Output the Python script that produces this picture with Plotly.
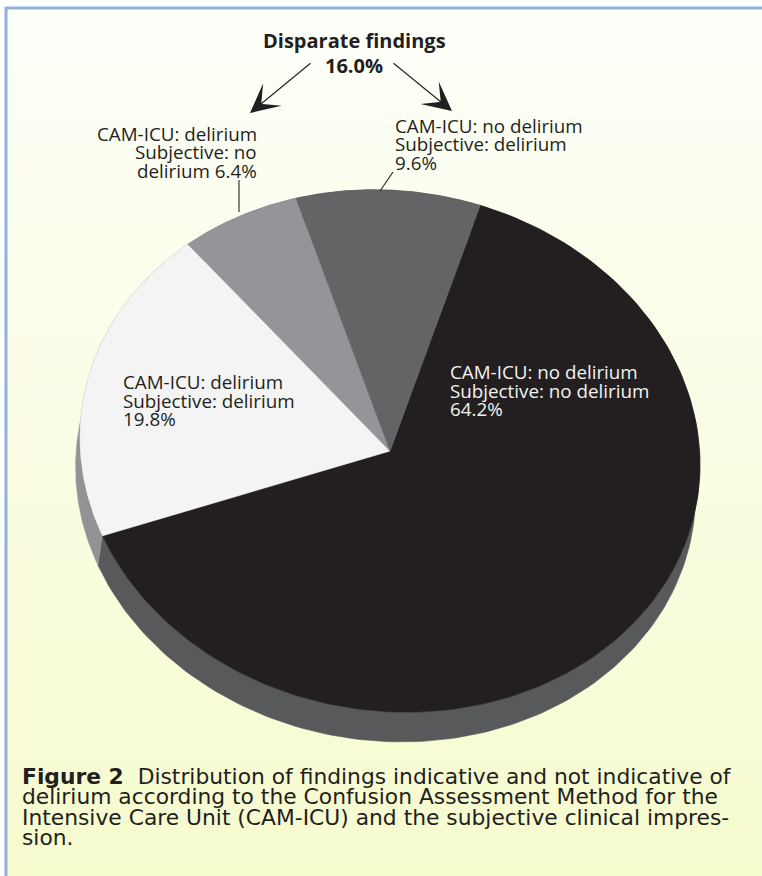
import numpy as np
import plotly.graph_objects as go

# ---------------- data ----------------
slice_names = [
    "CAM-ICU: no delirium / Subjective: no delirium",
    "CAM-ICU: delirium / Subjective: delirium",
    "CAM-ICU: delirium / Subjective: no delirium",
    "CAM-ICU: no delirium / Subjective: delirium",
]
slice_values = [64.2, 19.8, 6.4, 9.6]
top_colors = ["#231f20", "#f4f4f4", "#939598", "#646466"]
side_colors = ["#58595b", "#929397", "#7b7c7f", "#4e4e50"]
disparate_total = 16.0

caption_lines = [
    "<b>Figure 2</b>\u00a0 Distribution of findings indicative and not indicative of",
    "delirium according to the Confusion Assessment Method for the",
    "Intensive Care Unit (CAM-ICU) and the subjective clinical impres-",
    "sion.",
]

# ---------------- layout geometry ----------------
W, H = 762, 876
CX, CY = 390, 451          # centre of the pie's top face
RA, RB = 311, 260          # semi-axes of the projected disc
TILT = np.radians(8.5)     # rotation of the projected disc
DEPTH = 30                 # thickness of the pie
START = -80.2              # start angle (deg, clockwise on screen)
FONT = "Open Sans"
CAP_FONT = "DejaVu Sans"


def ell(t):
    x = CX + RA * np.cos(t) * np.cos(TILT) - RB * np.sin(t) * np.sin(TILT)
    y = CY + RA * np.cos(t) * np.sin(TILT) + RB * np.sin(t) * np.cos(TILT)
    return x, y


ex, ey = -DEPTH * np.sin(TILT), DEPTH * np.cos(TILT)

fig = go.Figure()

total = sum(slice_values)
bounds = []
acc = START
for v in slice_values:
    a0 = acc
    a1 = acc + v / total * 360.0
    bounds.append((a0, a1))
    acc = a1

# sides first
for (a0, a1), col in zip(bounds, side_colors):
    t = np.radians(np.linspace(a0, a1, 200))
    x, y = ell(t)
    xs = np.concatenate([x, x[::-1] + ex])
    ys = np.concatenate([y, y[::-1] + ey])
    fig.add_trace(go.Scatter(x=xs, y=ys, mode="lines", fill="toself",
                             fillcolor=col, line=dict(color=col, width=0.6),
                             hoverinfo="skip", showlegend=False))

# top faces
for (a0, a1), col, name in zip(bounds, top_colors, slice_names):
    t = np.radians(np.linspace(a0, a1, 200))
    x, y = ell(t)
    xs = np.concatenate([[CX], x, [CX]])
    ys = np.concatenate([[CY], y, [CY]])
    fig.add_trace(go.Scatter(x=xs, y=ys, mode="lines", fill="toself",
                             fillcolor=col, line=dict(color=col, width=0.6),
                             name=name, hoverinfo="name", showlegend=False))

annotations = []


def txt(x, y, s, size=18.8, color="#231f20", anchor="left", bold=False, family=FONT):
    if bold:
        s = "<b>" + s + "</b>"
    annotations.append(dict(x=x, y=y, xref="x", yref="y", text=s, showarrow=False,
                            xanchor=anchor, yanchor="middle",
                            font=dict(family=family, size=size, color=color)))


pct = lambda v: f"{v:.1f}%"

# header
txt(354, 40, "Disparate findings", anchor="center", bold=True, size=20)
txt(354, 65, pct(disparate_total), anchor="center", bold=True, size=20)

# left outer label (6.4 %)
txt(259, 134, "CAM-ICU: delirium", anchor="right")
txt(259, 152, "Subjective: no", anchor="right")
txt(259, 171, "delirium " + pct(slice_values[2]), anchor="right")
# right outer label (9.6 %)
txt(393, 126, "CAM-ICU: no delirium")
txt(393, 144, "Subjective: delirium")
txt(393, 163, pct(slice_values[3]))
# inside labels
txt(121, 382, "CAM-ICU: delirium")
txt(121, 401, "Subjective: delirium")
txt(121, 419, pct(slice_values[1]))
txt(448, 372, "CAM-ICU: no delirium", color="#f2f2f2")
txt(448, 391, "Subjective: no delirium", color="#f2f2f2")
txt(448, 409, pct(slice_values[0]), color="#f2f2f2")

# caption
for i, line in enumerate(caption_lines):
    txt(20, 776 + i * 20.6, line, size=21.8, family=CAP_FONT)

# arrows
for tip, tail in [((250, 113), (312, 62)), ((452, 111), (392, 62))]:
    annotations.append(dict(x=tip[0], y=tip[1], ax=tail[0], ay=tail[1],
                            xref="x", yref="y", axref="x", ayref="y",
                            showarrow=True, arrowhead=3, arrowsize=4.4,
                            arrowwidth=1.1, arrowcolor="#231f20", text=""))

shapes = []
# background gradient
top_rgb = np.array([254, 255, 249])
bot_rgb = np.array([246, 251, 206])
n = 90
for i in range(n):
    f = i / (n - 1)
    c = top_rgb + (bot_rgb - top_rgb) * f
    shapes.append(dict(type="rect", xref="x", yref="y", x0=6, x1=W,
                       y0=8 + (H - 8) * i / n, y1=8 + (H - 8) * (i + 1) / n + 0.5,
                       fillcolor=f"rgb({c[0]:.0f},{c[1]:.0f},{c[2]:.0f})",
                       line=dict(width=0), layer="below"))
# frame lines
shapes.append(dict(type="line", xref="x", yref="y", x0=6, x1=W, y0=8, y1=8,
                   line=dict(color="#92b0d8", width=3)))
shapes.append(dict(type="line", xref="x", yref="y", x0=6, x1=6, y0=7, y1=H,
                   line=dict(color="#92b0d8", width=3)))
# leader lines
shapes.append(dict(type="line", xref="x", yref="y", x0=239, x1=239, y0=180, y1=212,
                   line=dict(color="#231f20", width=1.1)))
shapes.append(dict(type="line", xref="x", yref="y", x0=393, x1=380, y0=172, y1=191,
                   line=dict(color="#231f20", width=1.1)))

fig.update_layout(
    width=W, height=H, autosize=False,
    margin=dict(l=0, r=0, t=0, b=0),
    paper_bgcolor="white", plot_bgcolor="white",
    xaxis=dict(range=[0, W], visible=False, fixedrange=True),
    yaxis=dict(range=[H, 0], visible=False, fixedrange=True),
    annotations=annotations, shapes=shapes,
    showlegend=False,
)

fig.write_html(
    "out.html",
    config={"displayModeBar": False},
    post_script="document.body.style.margin='0';document.body.style.overflow='hidden';"
                "document.documentElement.style.overflow='hidden';",
)
